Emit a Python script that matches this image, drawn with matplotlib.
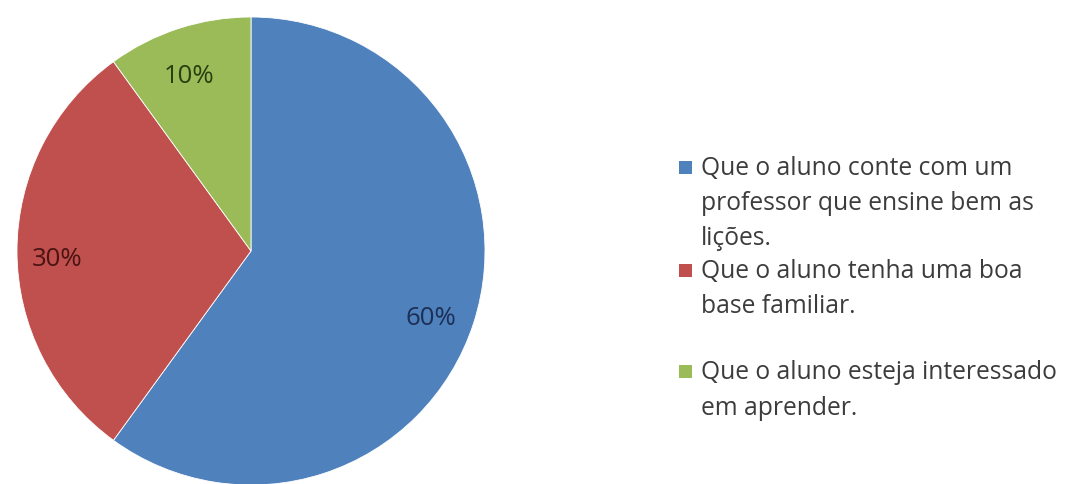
import numpy as np
import matplotlib.pyplot as plt
from matplotlib.patches import Rectangle

shares = [60, 30, 10]
pct_labels = ['60%', '30%', '10%']
legend_labels = [
    'Que o aluno conte com um\nprofessor que ensine bem as\nlições.',
    'Que o aluno tenha uma boa\nbase familiar.',
    'Que o aluno esteja interessado\nem aprender.',
]
colors = ['#4F81BD', '#C0504D', '#9BBB59']
label_colors = ['#1c2f55', '#4a1412', '#26400f']

plt.rcParams['font.family'] = ['Open Sans', 'DejaVu Sans']

W, H = 1074, 484
fig = plt.figure(figsize=(W / 100, H / 100), dpi=100)
fig.patch.set_facecolor('white')

# pie axes: centre at (251, 251) px from top, radius 234 px
R = 234
cx, cy = 251, H - 251
ax = fig.add_axes([(cx - R) / W, (cy - R) / H, 2 * R / W, 2 * R / H])
wedges, _ = ax.pie(shares, colors=colors, startangle=90, counterclock=False,
                   radius=1, wedgeprops=dict(linewidth=0.6, edgecolor='white'))
ax.set_xlim(-1, 1)
ax.set_ylim(-1, 1)
ax.set_aspect('equal')
ax.axis('off')

# percentage labels along each wedge's mid angle
for w, lab, col in zip(wedges, pct_labels, label_colors):
    mid = np.deg2rad((w.theta1 + w.theta2) / 2)
    r = 0.82
    ax.text(r * np.cos(mid) - 0.01, r * np.sin(mid) - 0.035, lab, ha='center',
            va='center', fontsize=18.5, color=col)

# legend drawn by hand to keep the irregular spacing (baselines in px)
baselines = [[175, 210, 245], [278, 313], [379, 415]]
for lab, col, bl in zip(legend_labels, colors, baselines):
    fig.patches.append(Rectangle((679 / W, 1 - (bl[0] - 1) / H), 13 / W, 13 / H,
                                 transform=fig.transFigure, facecolor=col,
                                 edgecolor='none'))
    for line, yb in zip(lab.split('\n'), bl):
        fig.text(701 / W, 1 - yb / H, line, ha='left', va='baseline',
                 fontsize=17.7, color='#3c3c3c')

fig.savefig('out.png', dpi=100, facecolor='white')
